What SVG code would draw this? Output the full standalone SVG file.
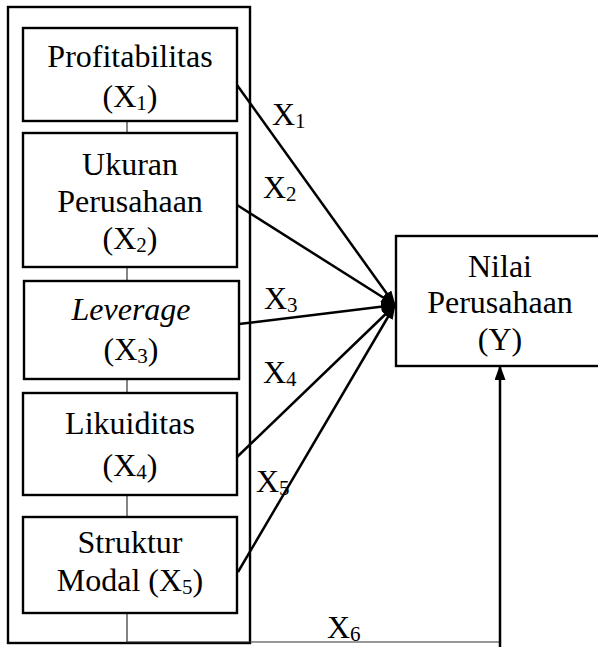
<svg xmlns="http://www.w3.org/2000/svg" width="598" height="647" viewBox="0 0 598 647">
<style>
.box{fill:#fff;stroke:#000;stroke-width:2.4}
.t{font-family:"Liberation Serif","Times New Roman",serif;font-size:32px;fill:#000;text-anchor:middle}
.lbl{font-family:"Liberation Serif","Times New Roman",serif;font-size:32px;fill:#000}
.thin{fill:none;stroke:#333;stroke-width:1.2}
.arr{fill:none;stroke:#000;stroke-width:2.5}
</style>
<defs>
<marker id="ah" markerUnits="userSpaceOnUse" markerWidth="15" markerHeight="11" refX="14" refY="5.5" orient="auto">
<path d="M0,0 L15,5.5 L0,11 z" fill="#000"/>
</marker>
</defs>
<rect x="0" y="0" width="598" height="647" fill="#fff"/>
<g id="outer"><rect class="box" x="8" y="7" width="242" height="636"/></g>
<g id="connectors">
<line class="thin" x1="127" y1="121" x2="127" y2="133"/>
<line class="thin" x1="127" y1="267" x2="127" y2="281"/>
<line class="thin" x1="127" y1="379" x2="127" y2="393"/>
<line class="thin" x1="127" y1="495" x2="127" y2="517"/>
<polyline class="thin" points="127,613 127,642 500,642"/>
<line class="arr" x1="237" y1="85" x2="395" y2="305" marker-end="url(#ah)"/>
<line class="arr" x1="237" y1="205" x2="395" y2="305" marker-end="url(#ah)"/>
<line class="arr" x1="239" y1="324" x2="395" y2="305" marker-end="url(#ah)"/>
<line class="arr" x1="237" y1="457" x2="395" y2="305" marker-end="url(#ah)"/>
<line class="arr" x1="238" y1="572" x2="395" y2="305" marker-end="url(#ah)"/>
<line class="arr" x1="500" y1="647" x2="500" y2="366" marker-end="url(#ah)"/>
<text class="lbl" x="272" y="125">X<tspan font-size="21" dy="3">1</tspan></text>
<text class="lbl" x="263" y="198">X<tspan font-size="21" dy="3">2</tspan></text>
<text class="lbl" x="264" y="309">X<tspan font-size="21" dy="3">3</tspan></text>
<text class="lbl" x="263" y="383">X<tspan font-size="21" dy="3">4</tspan></text>
<text class="lbl" x="256" y="492">X<tspan font-size="21" dy="3">5</tspan></text>
<text class="lbl" x="327" y="638">X<tspan font-size="21" dy="3">6</tspan></text>
</g>
<g id="x1">
<rect class="box" x="23" y="28" width="214" height="93"/>
<text class="t" x="130" y="67">Profitabilitas</text>
<text class="t" x="130" y="107">(X<tspan font-size="21" dy="3">1</tspan><tspan dy="-3">)</tspan></text>
</g>
<g id="x2">
<rect class="box" x="23" y="133" width="214" height="134"/>
<text class="t" x="130" y="175">Ukuran</text>
<text class="t" x="130" y="212">Perusahaan</text>
<text class="t" x="130" y="249">(X<tspan font-size="21" dy="3">2</tspan><tspan dy="-3">)</tspan></text>
</g>
<g id="x3">
<rect class="box" x="24" y="281" width="215" height="98"/>
<text class="t" x="131" y="320" font-style="italic">Leverage</text>
<text class="t" x="131" y="360">(X<tspan font-size="21" dy="3">3</tspan><tspan dy="-3">)</tspan></text>
</g>
<g id="x4">
<rect class="box" x="23" y="393" width="214" height="102"/>
<text class="t" x="130" y="434">Likuiditas</text>
<text class="t" x="130" y="476">(X<tspan font-size="21" dy="3">4</tspan><tspan dy="-3">)</tspan></text>
</g>
<g id="x5">
<rect class="box" x="23" y="517" width="214" height="96"/>
<text class="t" x="130" y="553">Struktur</text>
<text class="t" x="130" y="591">Modal (X<tspan font-size="21" dy="3">5</tspan><tspan dy="-3">)</tspan></text>
</g>
<g id="y">
<rect class="box" x="396" y="236" width="220" height="130"/>
<text class="t" x="500" y="277">Nilai</text>
<text class="t" x="500" y="313">Perusahaan</text>
<text class="t" x="500" y="350">(Y)</text>
</g>
</svg>
